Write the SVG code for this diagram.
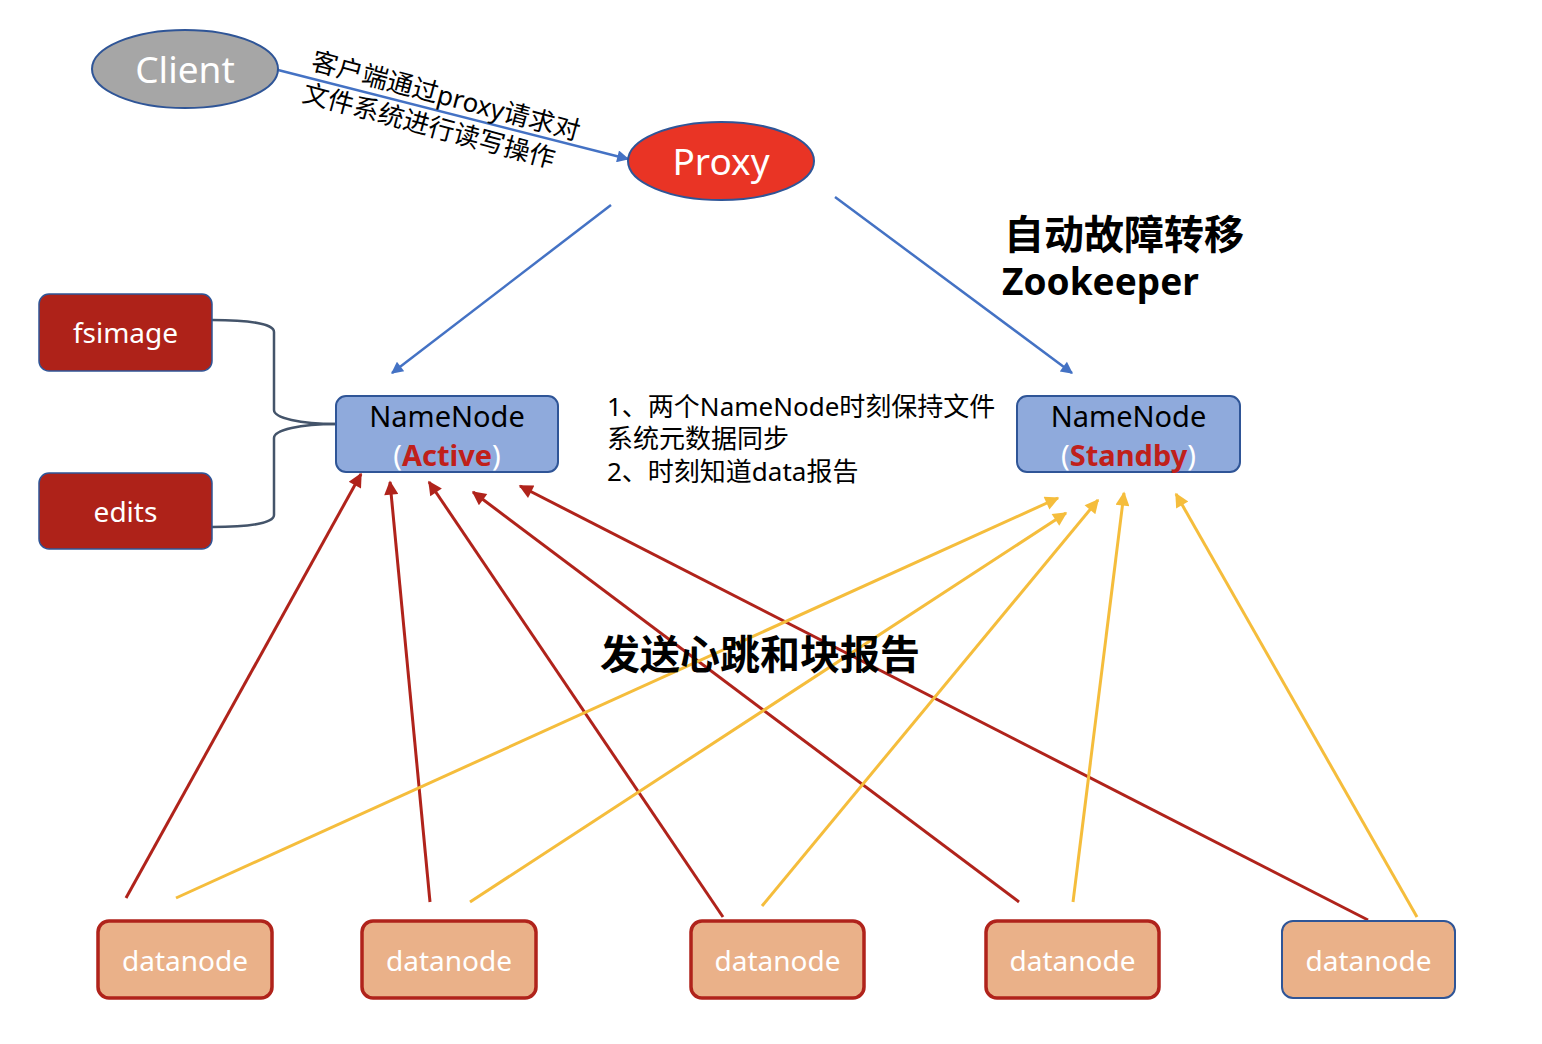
<svg xmlns="http://www.w3.org/2000/svg" width="1542" height="1044" viewBox="0 0 1542 1044">
<defs>
<style>
.t{font-family:"Noto Sans","Noto Sans CJK SC",sans-serif;}
.w{fill:#ffffff;}
.b{font-weight:bold;}
.red{stroke:#b0231b;stroke-width:3;fill:none;}
.yel{stroke:#f5bd3c;stroke-width:3;fill:none;}
.blu{stroke:#4472c4;stroke-width:2.5;fill:none;}
.dn{fill:#eab189;stroke:#b0231b;stroke-width:3.5;}
.store{fill:#ae2219;stroke:#2f5597;stroke-width:1.5;}
.nn{fill:#8faadc;stroke:#2f5597;stroke-width:2;}
</style>
<marker id="ar" viewBox="0 0 10 10" refX="9" refY="5" markerWidth="16" markerHeight="14" markerUnits="userSpaceOnUse" orient="auto"><path d="M0,0 L10,5 L0,10 z" fill="#b0231b"/></marker>
<marker id="ay" viewBox="0 0 10 10" refX="9" refY="5" markerWidth="16" markerHeight="14" markerUnits="userSpaceOnUse" orient="auto"><path d="M0,0 L10,5 L0,10 z" fill="#f5bd3c"/></marker>
<marker id="ab" viewBox="0 0 10 10" refX="9" refY="5" markerWidth="14" markerHeight="12" markerUnits="userSpaceOnUse" orient="auto"><path d="M0,0 L10,5 L0,10 z" fill="#4472c4"/></marker>
</defs>
<rect width="1542" height="1044" fill="#ffffff"/>

<g id="connectors">
<line class="blu" x1="278" y1="70" x2="628" y2="159" marker-end="url(#ab)"/>
<line class="blu" x1="611" y1="205" x2="392" y2="373" marker-end="url(#ab)"/>
<line class="blu" x1="835" y1="197" x2="1072" y2="373" marker-end="url(#ab)"/>
<path d="M212,320 C250,320 274,324 274,332 L274,410 C274,418 300,424 336,424" fill="none" stroke="#44546a" stroke-width="2.5"/>
<path d="M212,527 C250,527 274,523 274,515 L274,438 C274,430 300,424 336,424" fill="none" stroke="#44546a" stroke-width="2.5"/>
<line class="red" x1="126" y1="898" x2="361" y2="474" marker-end="url(#ar)"/>
<line class="red" x1="430" y1="902" x2="390" y2="482" marker-end="url(#ar)"/>
<line class="red" x1="723" y1="917" x2="429" y2="482" marker-end="url(#ar)"/>
<line class="red" x1="1019" y1="902" x2="473" y2="492" marker-end="url(#ar)"/>
<line class="red" x1="1368" y1="920" x2="520" y2="486" marker-end="url(#ar)"/>
<line class="yel" x1="176" y1="898" x2="1058" y2="498" marker-end="url(#ay)"/>
<line class="yel" x1="470" y1="902" x2="1066" y2="513" marker-end="url(#ay)"/>
<line class="yel" x1="762" y1="906" x2="1098" y2="500" marker-end="url(#ay)"/>
<line class="yel" x1="1073" y1="902" x2="1124" y2="493" marker-end="url(#ay)"/>
<line class="yel" x1="1417" y1="917" x2="1176" y2="494" marker-end="url(#ay)"/>
</g>

<g id="client">
<ellipse cx="185" cy="69" rx="93" ry="39" fill="#a6a6a6" stroke="#2f5597" stroke-width="2"/>
<text class="t w" x="185" y="83" font-size="37" text-anchor="middle">Client</text>
</g>

<g id="proxy">
<ellipse cx="721" cy="161" rx="93" ry="39" fill="#e93425" stroke="#2f5597" stroke-width="2"/>
<text class="t w" x="721" y="175" font-size="37" text-anchor="middle">Proxy</text>
</g>

<g id="proxy-label">
<text class="t" font-size="26" fill="#000" transform="translate(310,69) rotate(15)">客户端通过proxy请求对</text>
<text class="t" font-size="26" fill="#000" transform="translate(301,101) rotate(15)">文件系统进行读写操作</text>
</g>

<g id="fsimage">
<rect class="store" x="39" y="294" width="173" height="77" rx="10"/>
<text class="t w" x="125.5" y="343" font-size="28" text-anchor="middle">fsimage</text>
</g>

<g id="edits">
<rect class="store" x="39" y="473" width="173" height="76" rx="10"/>
<text class="t w" x="125.5" y="522" font-size="28" text-anchor="middle">edits</text>
</g>

<g id="namenode-active">
<rect class="nn" x="336" y="396" width="222" height="76" rx="10"/>
<text class="t" x="447" y="427" font-size="29" text-anchor="middle" fill="#000">NameNode</text>
<text class="t" x="447" y="466" font-size="29" text-anchor="middle"><tspan fill="#ffffff">(</tspan><tspan fill="#c0201a" font-weight="bold">Active</tspan><tspan fill="#ffffff">)</tspan></text>
</g>

<g id="namenode-standby">
<rect class="nn" x="1017" y="396" width="223" height="76" rx="10"/>
<text class="t" x="1128.5" y="427" font-size="29" text-anchor="middle" fill="#000">NameNode</text>
<text class="t" x="1128.5" y="466" font-size="29" text-anchor="middle"><tspan fill="#ffffff">(</tspan><tspan fill="#c0201a" font-weight="bold">Standby</tspan><tspan fill="#ffffff">)</tspan></text>
</g>

<g id="sync-note">
<text class="t" font-size="26" fill="#000">
<tspan x="607" y="416">1、两个NameNode时刻保持文件</tspan>
<tspan x="607" y="448">系统元数据同步</tspan>
<tspan x="607" y="481">2、时刻知道data报告</tspan>
</text>
</g>

<g id="zookeeper">
<text class="t b" x="1004" y="249" font-size="40" fill="#000">自动故障转移</text>
<text class="t b" x="1002" y="295" font-size="37" fill="#000">Zookeeper</text>
</g>

<g id="heartbeat-label">
<text class="t b" x="600" y="669" font-size="40" fill="#000">发送心跳和块报告</text>
</g>

<g id="datanode1">
<rect class="dn" x="98" y="921" width="174" height="77" rx="11"/>
<text class="t w" x="185" y="971" font-size="28" text-anchor="middle">datanode</text>
</g>
<g id="datanode2">
<rect class="dn" x="362" y="921" width="174" height="77" rx="11"/>
<text class="t w" x="449" y="971" font-size="28" text-anchor="middle">datanode</text>
</g>
<g id="datanode3">
<rect class="dn" x="691" y="921" width="173" height="77" rx="11"/>
<text class="t w" x="777.5" y="971" font-size="28" text-anchor="middle">datanode</text>
</g>
<g id="datanode4">
<rect class="dn" x="986" y="921" width="173" height="77" rx="11"/>
<text class="t w" x="1072.5" y="971" font-size="28" text-anchor="middle">datanode</text>
</g>
<g id="datanode5">
<rect x="1282" y="921" width="173" height="77" rx="11" fill="#eab189" stroke="#2f5597" stroke-width="2"/>
<text class="t w" x="1368.5" y="971" font-size="28" text-anchor="middle">datanode</text>
</g>
</svg>
